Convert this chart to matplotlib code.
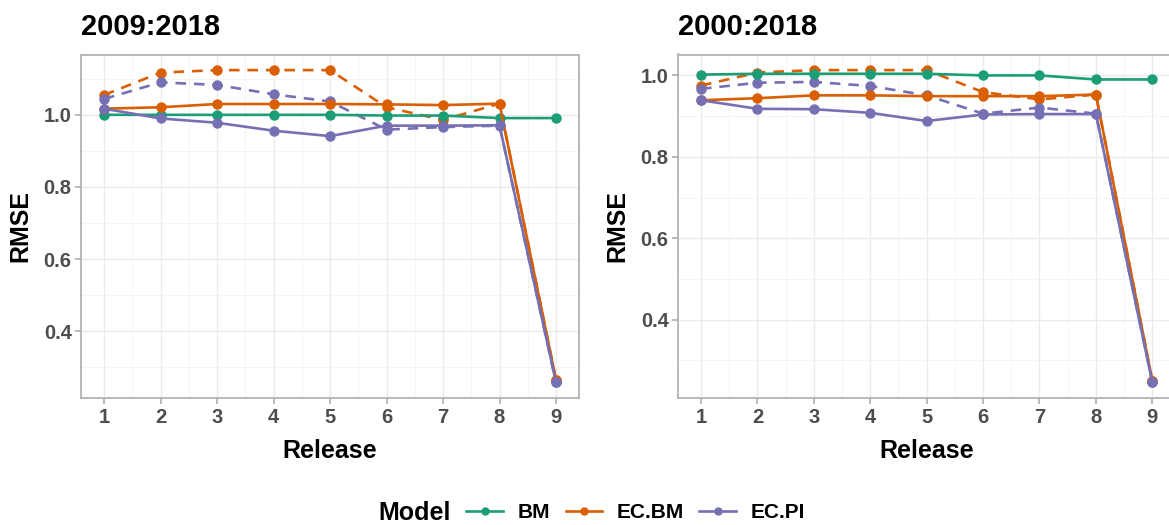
import numpy as np
import matplotlib.pyplot as plt
from matplotlib.lines import Line2D

plt.rcParams['font.family'] = ['Liberation Sans', 'DejaVu Sans']

releases = [1, 2, 3, 4, 5, 6, 7, 8, 9]
titles = ['2009:2018', '2000:2018']
models = ['BM', 'EC.BM', 'EC.PI']
colors = {'BM': '#1B9E77', 'EC.BM': '#D95F02', 'EC.PI': '#7570B3'}

# panel 2009:2018
bm_a = [1.000, 1.000, 1.000, 1.000, 1.000, 0.998, 0.998, 0.991, 0.991]
ecbm_a = [1.017, 1.021, 1.030, 1.030, 1.030, 1.029, 1.027, 1.031, 0.265]
ecbm_a_dash = [1.055, 1.117, 1.124, 1.124, 1.124, 1.021, 0.986, 1.031, 0.265]
ecpi_a = [1.017, 0.990, 0.978, 0.956, 0.941, 0.970, 0.970, 0.971, 0.258]
ecpi_a_dash = [1.044, 1.090, 1.083, 1.057, 1.037, 0.959, 0.966, 0.970, 0.258]

# panel 2000:2018
bm_b = [1.002, 1.004, 1.004, 1.004, 1.004, 1.000, 1.000, 0.990, 0.990]
ecbm_b = [0.939, 0.944, 0.951, 0.951, 0.949, 0.949, 0.949, 0.953, 0.250]
ecbm_b_dash = [0.975, 1.007, 1.013, 1.013, 1.013, 0.959, 0.941, 0.953, 0.250]
ecpi_b = [0.939, 0.918, 0.917, 0.908, 0.888, 0.904, 0.905, 0.905, 0.246]
ecpi_b_dash = [0.967, 0.982, 0.984, 0.974, 0.951, 0.906, 0.921, 0.906, 0.246]

panels = [
    {'BM': bm_a, 'EC.BM': ecbm_a, 'EC.PI': ecpi_a,
     'EC.BM dash': ecbm_a_dash, 'EC.PI dash': ecpi_a_dash},
    {'BM': bm_b, 'EC.BM': ecbm_b, 'EC.PI': ecpi_b,
     'EC.BM dash': ecbm_b_dash, 'EC.PI dash': ecpi_b_dash},
]
yticks = [[0.4, 0.6, 0.8, 1.0], [0.4, 0.6, 0.8, 1.0]]
yminor = [[0.3, 0.5, 0.7, 0.9, 1.1], [0.3, 0.5, 0.7, 0.9]]

W, H = 1169, 525
fig = plt.figure(figsize=(W / 100, H / 100), dpi=100)

boxes = [(81.4, 578.6), (678.4, 1174.9)]
top, bottom = 54.5, 398
grey_txt = '#4D4D4D'
border = '#B3B3B3'

for i, (x0, x1) in enumerate(boxes):
    ax = fig.add_axes([x0 / W, 1 - bottom / H, (x1 - x0) / W, (bottom - top) / H])
    d = panels[i]
    lw, ms = 1.9, 6.5
    for key, col in [('EC.BM dash', 'EC.BM'), ('EC.PI dash', 'EC.PI')]:
        ax.plot(releases, d[key], color=colors[col], lw=lw, ls=(0, (4, 3)),
                marker='o', ms=ms, zorder=3)
    for m in models:
        ax.plot(releases, d[m], color=colors[m], lw=lw, marker='o', ms=ms, zorder=4)

    vals = np.concatenate([np.array(v) for v in d.values()])
    lo, hi = vals.min(), vals.max()
    pad = (hi - lo) * 0.05
    ax.set_ylim(lo - pad, hi + pad)
    ax.set_xlim(0.6, 9.4)
    ax.set_xticks(releases)
    ax.set_xticks(np.arange(1.5, 9, 1), minor=True)
    ax.set_yticks(yticks[i])
    ax.set_yticklabels(['%.1f' % v for v in yticks[i]])
    ax.set_yticks(yminor[i], minor=True)
    ax.grid(True, which='major', color='#EBEBEB', lw=1.0, zorder=0)
    ax.grid(True, which='minor', color='#F4F4F4', lw=0.7, zorder=0)
    ax.set_axisbelow(True)
    for s in ax.spines.values():
        s.set_color(border)
        s.set_linewidth(1.3)
    ax.tick_params(which='major', length=4, width=1.3, color=border, pad=3,
                   labelsize=14.5, labelcolor=grey_txt)
    ax.tick_params(which='minor', length=0)
    for lab in ax.get_xticklabels() + ax.get_yticklabels():
        lab.set_fontweight('bold')
    ax.set_xlabel('Release', fontsize=18, fontweight='bold', labelpad=9)
    ax.set_ylabel('RMSE', fontsize=18, fontweight='bold', labelpad=8)
    ax.set_title(titles[i], loc='left', fontsize=21, fontweight='bold', pad=14)

handles = [Line2D([], [], color=colors[m], lw=1.9, marker='o', ms=5) for m in models]
fig.text(378 / W, 1 - 513 / H, 'Model', fontsize=18, fontweight='bold', va='center', ha='left')
leg = fig.legend(handles, models, loc='center left', bbox_to_anchor=(458 / W, 1 - 513 / H),
                 ncol=3, frameon=False, handlelength=1.75, handletextpad=0.7,
                 columnspacing=0.75, borderaxespad=0,
                 prop={'size': 15, 'weight': 'bold'})

fig.savefig('out.png', dpi=100)
